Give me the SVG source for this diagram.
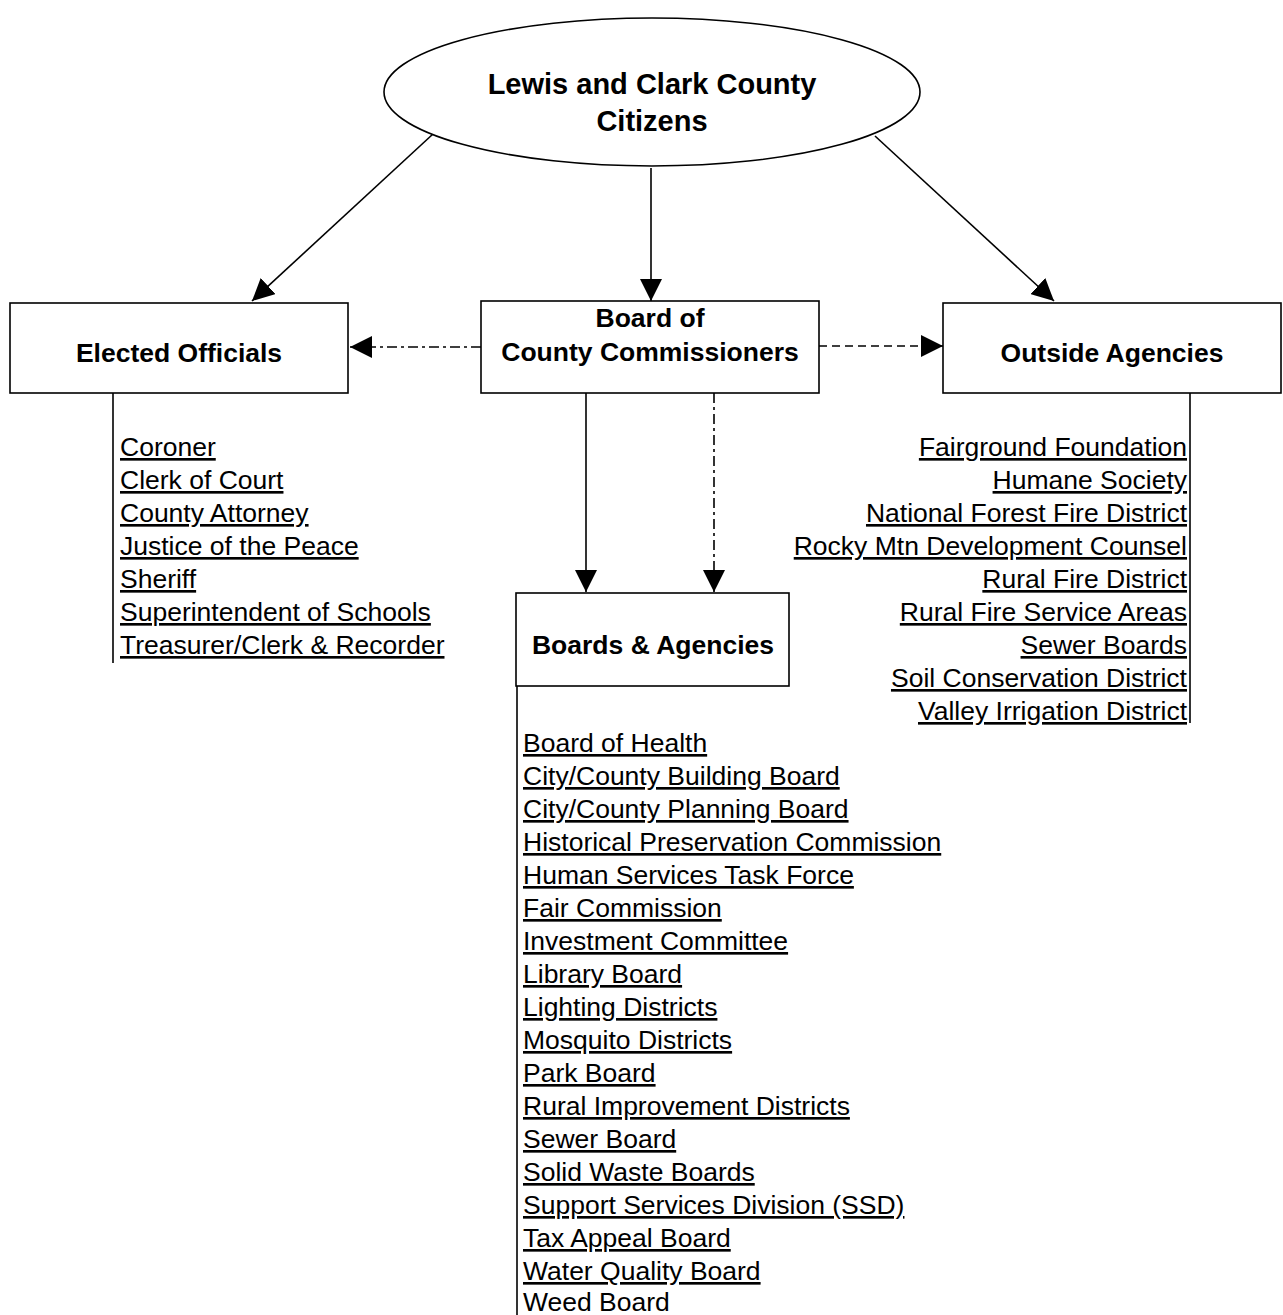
<svg xmlns="http://www.w3.org/2000/svg" width="1283" height="1315" viewBox="0 0 1283 1315">
<style>
.box{fill:#fff;stroke:#000;stroke-width:1.6}
.t{font-family:"Liberation Sans",Arial,sans-serif;font-size:26.5px;fill:#000}
.b{font-weight:bold;text-anchor:middle}
.u{text-decoration:underline;text-decoration-skip-ink:none;text-underline-offset:3px}
.r{text-anchor:end}
.ln{stroke:#000;stroke-width:1.6;fill:none}
.dd{stroke-dasharray:10 4 3 4}
.da{stroke-dasharray:8 5}
</style>
<defs>
<marker id="ah" markerUnits="userSpaceOnUse" markerWidth="22" markerHeight="22" refX="20" refY="10" orient="auto" viewBox="0 0 20 20">
<path d="M0,0 L20,10 L0,20 z" fill="#000"/>
</marker>
</defs>
<rect width="1283" height="1315" fill="#fff"/>
<g id="connectors">
<line class="ln" x1="433" y1="134" x2="252" y2="301" marker-end="url(#ah)"/>
<line class="ln" x1="651" y1="168" x2="651" y2="301" marker-end="url(#ah)"/>
<line class="ln" x1="875" y1="136" x2="1054" y2="301" marker-end="url(#ah)"/>
<line class="ln dd" x1="481" y1="347" x2="350" y2="347" marker-end="url(#ah)"/>
<line class="ln da" x1="819" y1="346" x2="943" y2="346" marker-end="url(#ah)"/>
<line class="ln" x1="586" y1="393" x2="586" y2="592" marker-end="url(#ah)"/>
<line class="ln dd" x1="714" y1="393" x2="714" y2="592" marker-end="url(#ah)"/>
<line class="ln" x1="113" y1="393" x2="113" y2="663"/>
<line class="ln" x1="1190" y1="393" x2="1190" y2="723"/>
<line class="ln" x1="517" y1="686" x2="517" y2="1315"/>
</g>
<g id="citizens">
<ellipse class="box" cx="652" cy="92" rx="268" ry="74"/>
<text class="t b" x="652" y="94" style="font-size:29px">Lewis and Clark County</text>
<text class="t b" x="652" y="131" style="font-size:29px">Citizens</text>
</g>
<g id="elected">
<rect class="box" x="10" y="303" width="338" height="90"/>
<text class="t b" x="179" y="362">Elected Officials</text>
</g>
<g id="board">
<rect class="box" x="481" y="301" width="338" height="92"/>
<text class="t b" x="650" y="327">Board of</text>
<text class="t b" x="650" y="361">County Commissioners</text>
</g>
<g id="outside">
<rect class="box" x="943" y="303" width="338" height="90"/>
<text class="t b" x="1112" y="362">Outside Agencies</text>
</g>
<g id="boards">
<rect class="box" x="516" y="593" width="273" height="93"/>
<text class="t b" x="653" y="654">Boards &amp; Agencies</text>
</g>
<g id="elected-list">
<text class="t u" x="120" y="456">Coroner</text>
<text class="t u" x="120" y="489">Clerk of Court</text>
<text class="t u" x="120" y="522">County Attorney</text>
<text class="t u" x="120" y="555">Justice of the Peace</text>
<text class="t u" x="120" y="588">Sheriff</text>
<text class="t u" x="120" y="621">Superintendent of Schools</text>
<text class="t u" x="120" y="654">Treasurer/Clerk &amp; Recorder</text>
</g>
<g id="outside-list">
<text class="t u r" x="1187" y="456">Fairground Foundation</text>
<text class="t u r" x="1187" y="489">Humane Society</text>
<text class="t u r" x="1187" y="522">National Forest Fire District</text>
<text class="t u r" x="1187" y="555">Rocky Mtn Development Counsel</text>
<text class="t u r" x="1187" y="588">Rural Fire District</text>
<text class="t u r" x="1187" y="621">Rural Fire Service Areas</text>
<text class="t u r" x="1187" y="654">Sewer Boards</text>
<text class="t u r" x="1187" y="687">Soil Conservation District</text>
<text class="t u r" x="1187" y="720">Valley Irrigation District</text>
</g>
<g id="boards-list">
<text class="t u" x="523" y="752">Board of Health</text>
<text class="t u" x="523" y="785">City/County Building Board</text>
<text class="t u" x="523" y="818">City/County Planning Board</text>
<text class="t u" x="523" y="851">Historical Preservation Commission</text>
<text class="t u" x="523" y="884">Human Services Task Force</text>
<text class="t u" x="523" y="917">Fair Commission</text>
<text class="t u" x="523" y="950">Investment Committee</text>
<text class="t u" x="523" y="983">Library Board</text>
<text class="t u" x="523" y="1016">Lighting Districts</text>
<text class="t u" x="523" y="1049">Mosquito Districts</text>
<text class="t u" x="523" y="1082">Park Board</text>
<text class="t u" x="523" y="1115">Rural Improvement Districts</text>
<text class="t u" x="523" y="1148">Sewer Board</text>
<text class="t u" x="523" y="1181">Solid Waste Boards</text>
<text class="t u" x="523" y="1214">Support Services Division (SSD)</text>
<text class="t u" x="523" y="1247">Tax Appeal Board</text>
<text class="t u" x="523" y="1280">Water Quality Board</text>
<text class="t" x="523" y="1311">Weed Board</text>
</g>
</svg>
